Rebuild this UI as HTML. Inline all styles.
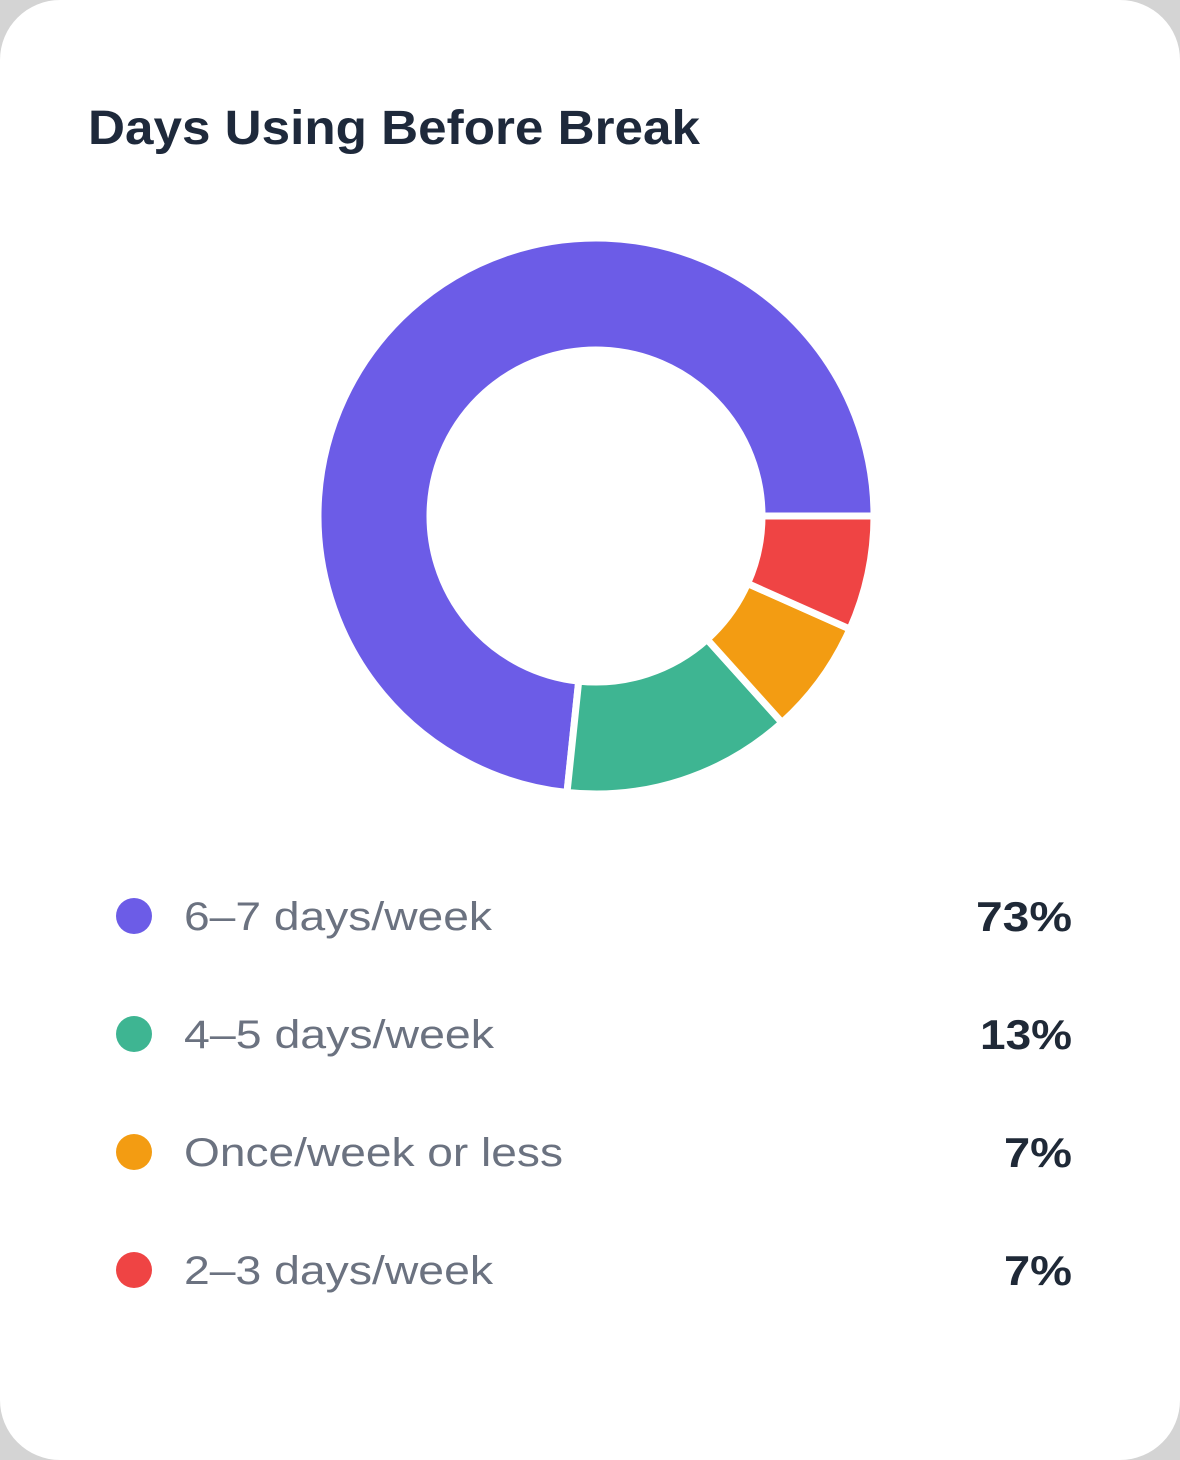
<!DOCTYPE html>
<html><head><meta charset="utf-8"><style>
html,body{margin:0;padding:0;background:#d4d4d4;}
svg{display:block;}
</style></head><body>
<svg width="1180" height="1460" viewBox="0 0 1180 1460" xmlns="http://www.w3.org/2000/svg" font-family="Liberation Sans, Arial, sans-serif">
<rect x="0" y="0" width="1180" height="1460" fill="#d4d4d4"/>
<rect x="0" y="0" width="1180" height="1460" rx="60" ry="60" fill="#ffffff"/>
<text x="88" y="144" font-size="48" font-weight="bold" fill="#1e293b" textLength="612" lengthAdjust="spacingAndGlyphs">Days Using Before Break</text>
<g stroke="#ffffff" stroke-width="7" stroke-linejoin="miter">
<path d="M874,516 A278 278 0 1 0 567.0,792.5 L578.7,681.1 A166 166 0 1 1 762,516 Z" fill="#6c5ce7"/>
<path d="M567.0,792.5 A278 278 0 0 0 782.0,722.6 L707.1,639.4 A166 166 0 0 1 578.7,681.1 Z" fill="#3eb592"/>
<path d="M782.0,722.6 A278 278 0 0 0 849.9,629.1 L747.6,583.5 A166 166 0 0 1 707.1,639.4 Z" fill="#f39c12"/>
<path d="M849.9,629.1 A278 278 0 0 0 874,516 L762,516 A166 166 0 0 1 747.6,583.5 Z" fill="#ef4444"/>
</g>
<g font-size="40" fill="#6b7280">
<circle cx="134" cy="916" r="18" fill="#6c5ce7"/>
<text x="184" y="930" textLength="308" lengthAdjust="spacingAndGlyphs">6–7 days/week</text>
<circle cx="134" cy="1034" r="18" fill="#3eb592"/>
<text x="184" y="1048" textLength="310" lengthAdjust="spacingAndGlyphs">4–5 days/week</text>
<circle cx="134" cy="1152" r="18" fill="#f39c12"/>
<text x="184" y="1166" textLength="379" lengthAdjust="spacingAndGlyphs">Once/week or less</text>
<circle cx="134" cy="1270" r="18" fill="#ef4444"/>
<text x="184" y="1284" textLength="309" lengthAdjust="spacingAndGlyphs">2–3 days/week</text>
</g>
<g font-size="42" font-weight="bold" fill="#1f2937" text-anchor="end">
<text x="1072" y="931" textLength="96" lengthAdjust="spacingAndGlyphs">73%</text>
<text x="1072" y="1049" textLength="92" lengthAdjust="spacingAndGlyphs">13%</text>
<text x="1072" y="1167" textLength="68" lengthAdjust="spacingAndGlyphs">7%</text>
<text x="1072" y="1285" textLength="68" lengthAdjust="spacingAndGlyphs">7%</text>
</g>
</svg>
</body></html>
